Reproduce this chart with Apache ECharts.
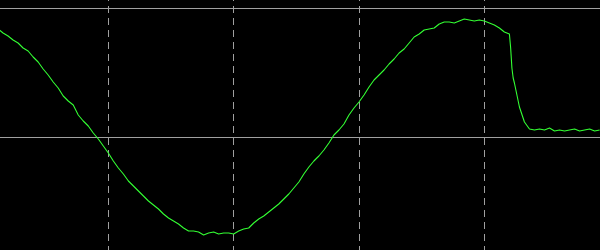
<!DOCTYPE html>
<html>
<head>
<meta charset="utf-8">
<script src="https://cdn.jsdelivr.net/npm/echarts@6/dist/echarts.min.js"></script>
<style>html,body{margin:0;padding:0;background:#000;}#c{width:600px;height:250px;}</style>
</head>
<body>
<div id="c"></div>
<script>
// Sample times (divisions) and signal level (arbitrary units, 129 = one horizontal division)
const times = [
  0.12,0.16,0.20,0.24,0.28,0.32,0.36,0.40,0.44,0.48,
  0.52,0.56,0.60,0.64,0.68,0.72,0.76,0.80,0.84,0.88,
  0.92,0.96,1.00,1.04,1.08,1.12,1.16,1.20,1.24,1.28,
  1.32,1.36,1.40,1.44,1.48,1.52,1.56,1.60,1.64,1.68,
  1.72,1.76,1.80,1.84,1.88,1.92,1.96,2.00,2.04,2.08,
  2.12,2.16,2.20,2.24,2.28,2.32,2.36,2.40,2.44,2.48,
  2.52,2.56,2.60,2.64,2.68,2.72,2.76,2.80,2.84,2.88,
  2.92,2.96,3.00,3.04,3.08,3.12,3.16,3.20,3.24,3.28,
  3.32,3.36,3.40,3.44,3.48,3.52,3.56,3.60,3.64,3.68,
  3.72,3.76,3.80,3.84,3.88,3.92,3.96,4.00,4.04,4.08,
  4.12,4.16,4.20,4.21,4.22,4.23,4.24,4.28,4.32,4.36,
  4.40,4.44,4.48,4.52,4.56,4.60,4.64,4.68,4.72,4.76,
  4.80,4.84,4.88,4.92
];
const levels = [
  108,104,101,97,94,89,86,80,75,68,
  62,55,49,41,36,32,22,16,11,4,
  -2,-9,-16,-24,-31,-37,-44,-49,-54,-59,
  -64,-68,-72,-77,-81,-84,-87,-91,-94,-94,
  -95,-98,-96,-95,-97,-96,-96,-97,-94,-92,
  -91,-86,-82,-79,-75,-71,-67,-62,-57,-51,
  -45,-37,-30,-24,-19,-13,-6,2,7,13,
  22,29,35,42,50,57,62,67,73,78,
  84,88,94,100,103,107,108,109,113,115,
  115,114,116,118,117,116,117,116,114,112,
  109,105,103,89,69,59,54,30,15,8,
  7,8,7,9,6,7,6,7,8,6,
  7,8,6,7
];
const xMin = 0, xMax = 5, xStep = 1;
const yMin = -129, yMax = 258, yStep = 129;

const chart = echarts.init(document.getElementById('c'), null, {renderer: 'canvas'});
chart.setOption({
  backgroundColor: '#000000',
  animation: false,
  grid: {left: -17, top: -121, width: 626.67, height: 387, containLabel: false, outerBoundsMode: 'none'},
  xAxis: {
    type: 'value', min: xMin, max: xMax, interval: xStep,
    axisLine: {show: false}, axisTick: {show: false}, axisLabel: {show: false},
    splitLine: {show: true, lineStyle: {color: '#a0a0a0', width: 1, type: [7, 5], dashOffset: 5}}
  },
  yAxis: {
    type: 'value', min: yMin, max: yMax, interval: yStep,
    axisLine: {show: false}, axisTick: {show: false}, axisLabel: {show: false},
    splitLine: {show: true, lineStyle: {color: '#a0a0a0', width: 1, type: 'solid'}}
  },
  series: [{
    type: 'line',
    data: times.map((t, i) => [t, levels[i]]),
    showSymbol: false,
    symbol: 'none',
    lineStyle: {color: '#33ff33', width: 1.1},
    clip: false
  }]
});
</script>
</body>
</html>
